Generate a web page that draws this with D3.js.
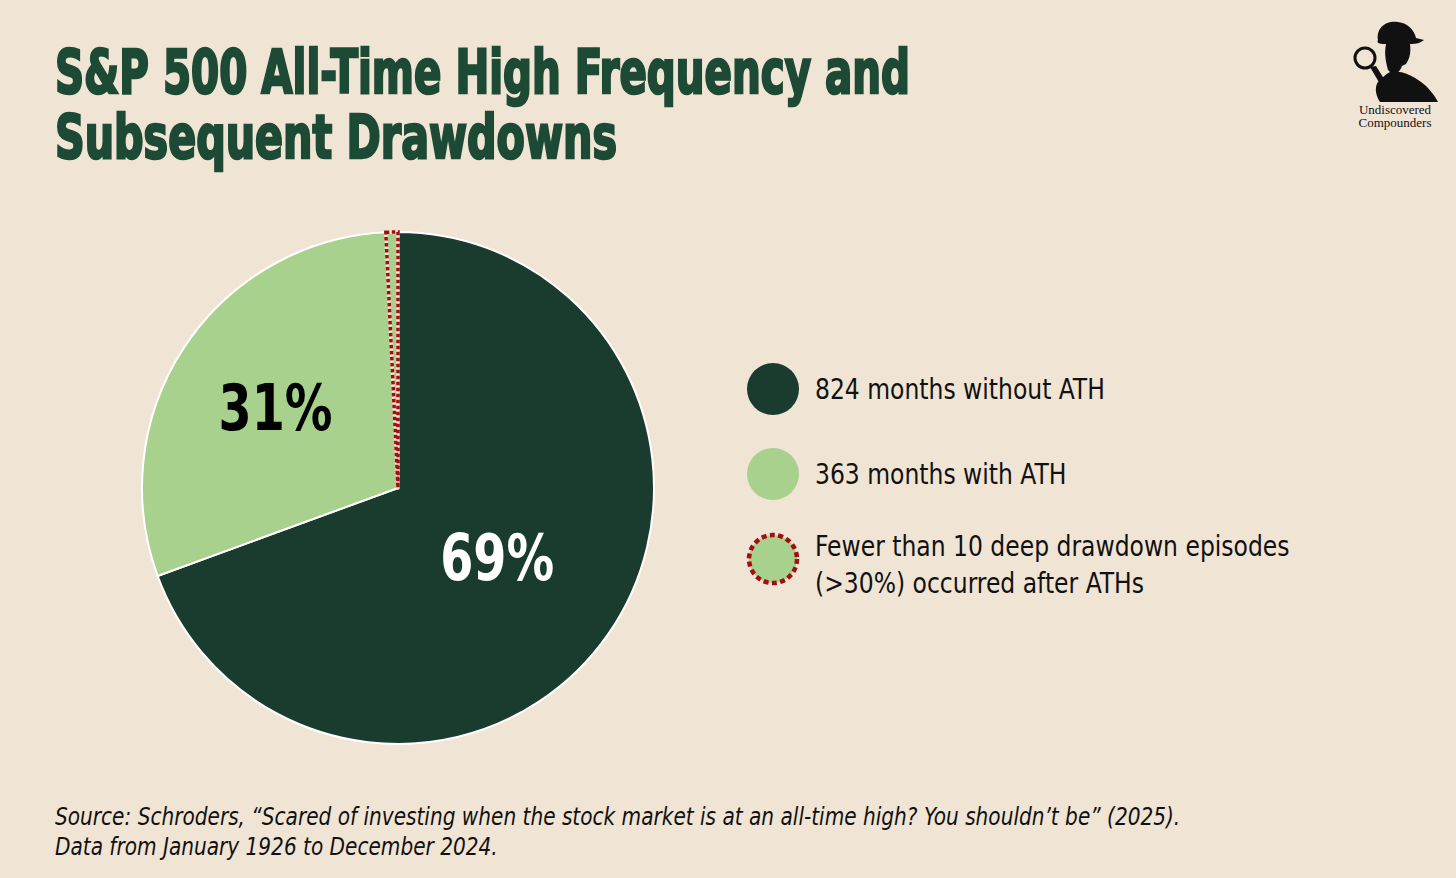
<!DOCTYPE html>
<html>
<head>
<meta charset="utf-8">
<script src="https://cdn.jsdelivr.net/npm/d3@7"></script>
<style>
  html, body { margin: 0; padding: 0; background: #f0e4d4; }
  svg { display: block; }
</style>
</head>
<body>
<svg id="chart"></svg>
<script>
// Data
const sliceLabels = ["824 months without ATH", "363 months with ATH", "Fewer than 10 deep drawdown episodes"];
const sliceValues = [824, 354, 9];        // 363 ATH months, of which ~9 led to deep drawdowns
const percentLabels = ["69%", "31%"];
const legendLines = [
  ["824 months without ATH"],
  ["363 months with ATH"],
  ["Fewer than 10 deep drawdown episodes", "(>30%) occurred after ATHs"]
];
const titleLines = ["S&P 500 All-Time High Frequency and", "Subsequent Drawdowns"];
const sourceLines = [
  "Source: Schroders, \u201cScared of investing when the stock market is at an all-time high? You shouldn\u2019t be\u201d (2025).",
  "Data from January 1926 to December 2024."
];

const width = 1456;
const height = 878;
const bg = "#f0e4d4";
const dark = "#1a3c2f";
const light = "#a8d18e";
const red = "#a30d0d";
const titleColor = "#1d4a35";
const narrow = "'Liberation Sans Narrow', 'DejaVu Sans Condensed', sans-serif";

const svg = d3.select("#chart")
    .attr("width", width)
    .attr("height", height);

svg.append("rect").attr("width", width).attr("height", height).attr("fill", bg);

// title - squeezed to match the heavy condensed face
const titleWidths = [855, 562];
svg.selectAll(".title")
    .data(titleLines)
    .enter()
    .append("text")
    .attr("class", "title")
    .attr("x", 55)
    .attr("y", (d, i) => 93 + i * 65)
    .attr("textLength", (d, i) => titleWidths[i])
    .attr("lengthAdjust", "spacingAndGlyphs")
    .style("font-family", narrow)
    .style("font-weight", "bold")
    .style("font-size", "61px")
    .style("fill", titleColor)
    .style("stroke", titleColor)
    .style("stroke-width", "2.5px")
    .text(d => d);

// pie
const cx = 398, cy = 488, radius = 256;
const g = svg.append("g").attr("transform", `translate(${cx},${cy})`);

const pie = d3.pie().sort(null).value(d => d);
const arcs = pie(sliceValues);
const arc = d3.arc().innerRadius(0).outerRadius(radius);
const fills = [dark, light, light];

g.selectAll("path.slice")
    .data(arcs)
    .enter()
    .append("path")
    .attr("class", "slice")
    .attr("d", arc)
    .attr("fill", (d, i) => fills[i])
    .attr("stroke", (d, i) => i === 2 ? "#f3ead9" : "white")
    .attr("stroke-width", (d, i) => i === 2 ? 3.5 : 2)
    .attr("stroke-linejoin", "round");

// dotted outline of the drawdown sliver
g.append("path")
    .attr("d", arc(arcs[2]))
    .attr("fill", "none")
    .attr("stroke", red)
    .attr("stroke-width", 3.5)
    .attr("stroke-dasharray", "3.5,2.5");

// percent labels
const labelRadius = [121, 147];
const labelFill = ["white", "black"];
g.selectAll("text.pct")
    .data(arcs.slice(0, 2))
    .enter()
    .append("text")
    .attr("class", "pct")
    .attr("transform", (d, i) => {
        const a = (d.startAngle + d.endAngle) / 2;
        return `translate(${Math.sin(a) * labelRadius[i]},${-Math.cos(a) * labelRadius[i]})`;
    })
    .attr("text-anchor", "middle")
    .attr("dy", "0.36em")
    .attr("textLength", 114)
    .attr("lengthAdjust", "spacingAndGlyphs")
    .style("font-family", narrow)
    .style("font-weight", "bold")
    .style("font-size", "64px")
    .style("fill", (d, i) => labelFill[i])
    .text((d, i) => percentLabels[i]);

// legend
const legendY = [389, 474, 559];
const legend = svg.append("g");
legend.selectAll("circle")
    .data(legendLines)
    .enter()
    .append("circle")
    .attr("cx", 773)
    .attr("cy", (d, i) => legendY[i])
    .attr("r", (d, i) => i === 2 ? 24 : 26)
    .attr("fill", (d, i) => fills[i])
    .attr("stroke", (d, i) => i === 2 ? red : "none")
    .attr("stroke-width", 4.5)
    .attr("stroke-dasharray", "5,3.4");

// text squeezed horizontally to mimic the condensed face
const legendText = legend.append("g").attr("transform", "translate(815,0) scale(0.9,1)");
legendText.selectAll("text")
    .data(legendLines)
    .enter()
    .append("text")
    .attr("x", 0)
    .attr("y", (d, i) => legendY[i] + 10 - (d.length - 1) * 13)
    .style("font-family", narrow)
    .style("font-size", "29px")
    .style("fill", "#111")
    .each(function(d) {
        d3.select(this).selectAll("tspan")
            .data(d)
            .enter()
            .append("tspan")
            .attr("x", 0)
            .attr("dy", (t, j) => j === 0 ? 0 : 37)
            .text(t => t);
    });

// source
svg.append("g")
    .attr("transform", "translate(55,0) scale(0.894,1)")
    .selectAll(".source")
    .data(sourceLines)
    .enter()
    .append("text")
    .attr("class", "source")
    .attr("x", 0)
    .attr("y", (d, i) => 825 + i * 30)
    .style("font-family", narrow)
    .style("font-style", "italic")
    .style("font-size", "25px")
    .style("fill", "#111")
    .text(d => d);

// logo (rough detective silhouette)
const logo = svg.append("g").attr("transform", "translate(1340,10)");
logo.append("path")
    .attr("d", "M38,30 C36,18 46,10 58,12 C68,13 74,20 76,28 L84,30 C80,33 76,34 72,34 L44,34 C40,34 36,33 38,30 Z")
    .attr("fill", "#111");
logo.append("path")
    .attr("d", "M46,34 L70,34 C71,42 70,48 66,54 L62,56 C60,62 56,64 52,64 L48,60 C46,52 44,44 46,34 Z")
    .attr("fill", "#111");
logo.append("path")
    .attr("d", "M50,62 C62,60 74,66 86,76 C92,82 96,88 98,92 L40,92 C36,86 34,78 38,72 C42,68 46,64 50,62 Z")
    .attr("fill", "#111");
logo.append("circle")
    .attr("cx", 25).attr("cy", 48).attr("r", 10)
    .attr("fill", bg).attr("stroke", "#111").attr("stroke-width", 3);
logo.append("path")
    .attr("d", "M30,57 L40,74 L46,72 L36,56 Z")
    .attr("fill", "#111");
logo.append("text")
    .attr("x", 55).attr("y", 104)
    .attr("text-anchor", "middle")
    .style("font-family", "'Liberation Serif', serif")
    .style("font-size", "13px")
    .style("fill", "#111")
    .text("Undiscovered");
logo.append("text")
    .attr("x", 55).attr("y", 117)
    .attr("text-anchor", "middle")
    .style("font-family", "'Liberation Serif', serif")
    .style("font-size", "13px")
    .style("fill", "#111")
    .text("Compounders");
</script>
</body>
</html>
